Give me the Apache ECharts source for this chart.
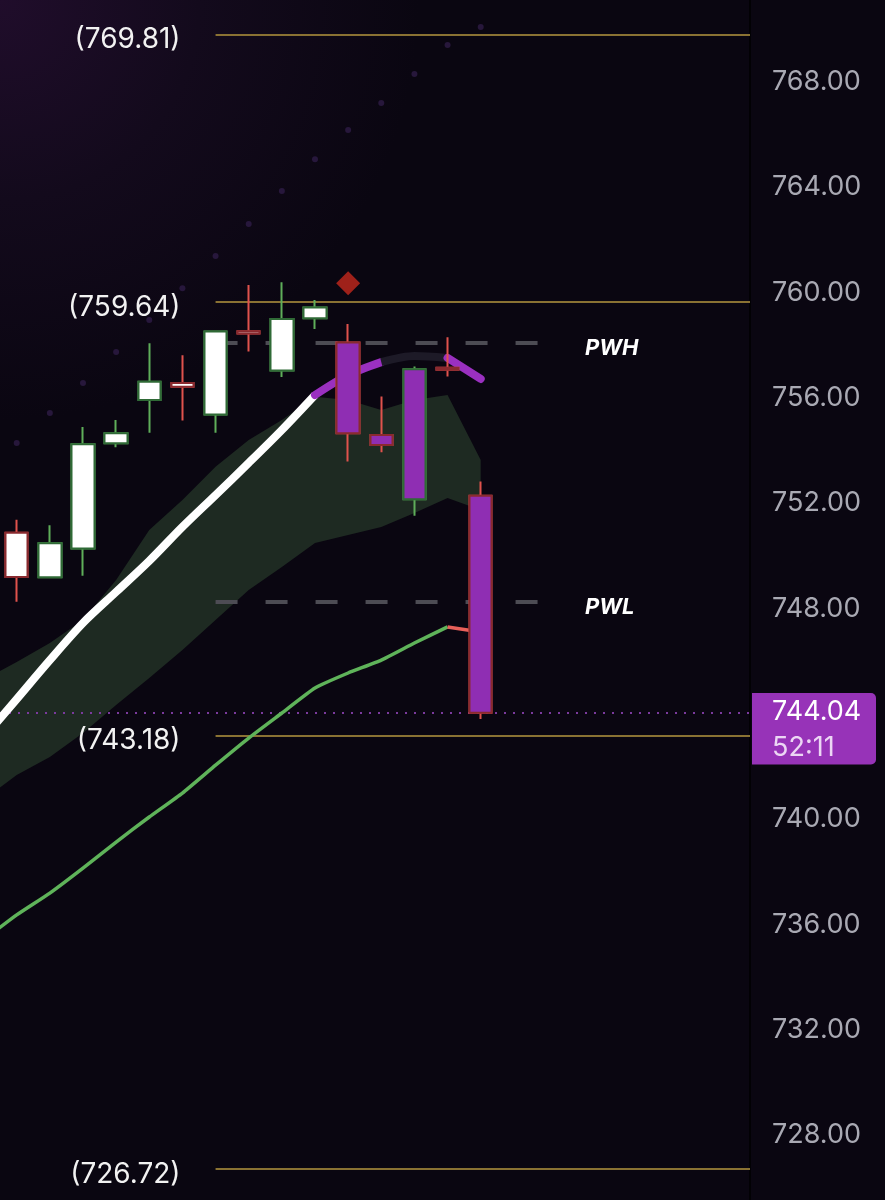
<!DOCTYPE html>
<html><head><meta charset="utf-8">
<script src="https://cdn.jsdelivr.net/npm/echarts@6/dist/echarts.min.js"></script>
<style>
html,body{margin:0;padding:0;width:885px;height:1200px;overflow:hidden;background:#0a0611;}
body{background:radial-gradient(circle at 0 0,#200d2b 0px,#130a1c 200px,#0a0611 420px);}
#c{width:885px;height:1200px;}
</style></head><body><div id="c"></div>
<script>
// ---------- data ----------
// slot index of each candle
const candleSlot  = [1, 2, 3, 4, 5, 6, 7, 8, 9, 10, 11, 12, 13, 14, 15];
const candleOpen  = [750.88, 749.19, 750.28, 754.28, 755.92, 756.57, 755.37, 758.53, 757.04, 759.03, 758.10, 754.59, 752.15, 757.15, 752.28];
const candleClose = [749.20, 750.48, 754.24, 754.66, 756.61, 756.42, 758.52, 758.45, 759.00, 759.43, 754.66, 754.21, 757.09, 757.07, 744.04];
const candleLow   = [748.26, 749.19, 749.24, 754.13, 754.68, 755.14, 754.68, 757.76, 756.79, 758.62, 753.58, 753.94, 751.52, 756.81, 743.80];
const candleHigh  = [751.37, 751.16, 754.89, 755.16, 758.08, 757.62, 758.55, 760.29, 760.39, 759.72, 758.81, 756.05, 757.19, 758.30, 752.82];
const candleSignal = [0,0,0,0,0,0,0,0,0,0,1,1,1,0,1];
// indicator lines, slots 0..15
const lineSlot   = [0, 1, 2, 3, 4, 5, 6, 7, 8, 9, 10, 11, 12, 13, 14, 15];
const maFast     = [743.08, 744.56, 746.04, 747.45, 748.63, 749.81, 751.10, 752.31, 753.53, 754.78, 756.11, 756.87, 757.36, 757.59, 757.52, 756.72];
const maSlow     = [735.41, 736.36, 737.19, 738.14, 739.13, 740.08, 740.99, 742.05, 743.08, 744.03, 744.98, 745.55, 746.04, 746.69, 747.30, 747.11];
const cloudUpper = [745.28, 745.97, 746.69, 747.56, 749.08, 750.98, 752.12, 753.38, 754.40, 755.16, 756.04, 755.92, 755.54, 755.92, 756.11, 753.64];
const cloudLower = [740.73, 741.68, 742.36, 743.27, 744.33, 745.36, 746.42, 747.56, 748.70, 749.58, 750.49, 750.79, 751.10, 751.63, 752.20, 751.74];
// projected path dots, slots 1..15
const projDots = [754.29, 755.43, 756.57, 757.74, 758.96, 760.17, 761.39, 762.61, 763.86, 765.07, 766.18, 767.20, 768.30, 769.41, 770.09];
// signal marker
const signalSlot = 11, signalValue = 760.36;
// levels
const levelValues = [769.81, 759.64, 743.18, 726.72];
const weekValues = [758.09, 748.25];
const weekNames = ['PWH', 'PWL'];
const lastPrice = 744.04;
const countdown = '52:11';
const yTicks = [728, 732, 736, 740, 744, 748, 752, 756, 760, 764, 768];

// ---------- axes / styles ----------
const X_MIN = 0.4961, X_MAX = 23.125;      // visible slot window
const Y_MIN = 725.531, Y_MAX = 771.115;    // visible price window
const LEVEL_FROM = 7, WEEK_TO = 17;
const COL = {
  bullBorder:'#2f6a36', bullWick:'#5fae5a', bearBorder:'#8a2a2f', bearWick:'#e0524d',
  white:'#ffffff', purple:'#8f2eb3', line:'#9a30c0', dark:'#1d1a27', green:'#5fb35a', red:'#e8605a',
  cloud:'#1e2a22', gold:'#8a7233', dash:'#4d4c54', dot:'#2e1b46'
};
const FONT = 'Inter, "Liberation Sans", sans-serif';

const candleWick = [], candleBody = [];
for (let i = 0; i < candleOpen.length; i++) {
  const k = candleSlot[i], o = candleOpen[i], c = candleClose[i];
  const up = c >= o;
  const fill = candleSignal[i] ? COL.purple : COL.white;
  const wick = up ? COL.bullWick : COL.bearWick;
  const border = up ? COL.bullBorder : COL.bearBorder;
  candleWick.push({ value: [k, o, c, candleLow[i], candleHigh[i]],
    itemStyle: { color: fill, color0: fill, borderColor: wick, borderColor0: wick } });
  candleBody.push({ value: [k, o, c, Math.min(o, c), Math.max(o, c)],
    itemStyle: { color: fill, color0: fill, borderColor: border, borderColor0: border } });
}
const seg = (arr, a, b) => lineSlot.map((x, i) => [x, arr[i]]).filter(p => p[0] >= a && p[0] <= b);
const dotsData = projDots.map((v, i) => [candleSlot[i], v]);

const levelLines = levelValues.map(v => [
  { coord: [LEVEL_FROM, v], lineStyle: { color: COL.gold, width: 2, type: 'solid' },
    label: { show: true, position: 'start', distance: 35, formatter: '{t|(' + v.toFixed(2) + ')}',
      rich: { t: { color: '#f2f2f2', fontSize: 28, fontFamily: FONT, padding: [11, 0, 0, 0] } } } },
  { coord: [X_MAX, v] }
]);
const weekLines = weekValues.map((v, i) => [
  { coord: [LEVEL_FROM, v], lineStyle: { color: COL.dash, width: 4, type: [22, 28] },
    label: { show: true, position: 'end', distance: 38, formatter: '{t|' + weekNames[i] + '}',
      rich: { t: { color: '#ffffff', fontSize: 22, fontWeight: 'bold', fontStyle: 'italic', fontFamily: FONT, padding: [11, 0, 0, 0] } } } },
  { coord: [WEEK_TO, v] }
]);
const priceLine = { yAxis: lastPrice, lineStyle: { color: '#7b3a9e', width: 2, type: [2, 7] },
  label: { show: true, position: 'end', distance: 2,
    formatter: '{s| }\n{a|' + lastPrice.toFixed(2) + '}\n{b|' + countdown + '}',
    rich: {
      s: { height: 32, lineHeight: 32, fontSize: 26, color: 'transparent' },
      a: { width: 104, height: 38, lineHeight: 38, padding: [0, 0, 0, 20], backgroundColor: '#9733b8',
           color: '#ffffff', fontSize: 27, fontFamily: FONT, align: 'left', borderRadius: [0, 5, 0, 0] },
      b: { width: 104, height: 33.5, lineHeight: 33.5, padding: [0, 0, 0, 20], backgroundColor: '#9733b8',
           color: '#ecd6f4', fontSize: 27, fontFamily: FONT, align: 'left', borderRadius: [0, 0, 5, 0] }
    } } };

const lineSeries = (name, data, color, width, z, cap, smooth) => ({
  name, type: 'line', data, smooth: smooth == null ? 0.3 : smooth, showSymbol: false, symbol: 'none', z, silent: true,
  lineStyle: { color, width, cap: cap || 'butt', join: 'round' }
});

// cloud band drawn as one polygon through the axes' coordinate mapping
function renderCloud(params, api) {
  const pts = [];
  for (let i = 0; i < lineSlot.length; i++) pts.push(api.coord([lineSlot[i], cloudUpper[i]]));
  for (let i = lineSlot.length - 1; i >= 0; i--) pts.push(api.coord([lineSlot[i], cloudLower[i]]));
  return { type: 'polygon', shape: { points: pts }, style: { fill: COL.cloud, stroke: null } };
}

const chart = echarts.init(document.getElementById('c'), null, { renderer: 'canvas' });
chart.setOption({
  backgroundColor: 'transparent',
  animation: false,
  grid: { left: 0, right: 135, top: 0, bottom: 0, containLabel: false },
  xAxis: { type: 'value', min: X_MIN, max: X_MAX, show: false },
  yAxis: {
    type: 'value', position: 'right', min: Y_MIN, max: Y_MAX,
    axisLine: { show: true, lineStyle: { color: '#020104', width: 2 } },
    axisTick: { show: false }, splitLine: { show: false },
    axisLabel: { margin: 22, color: '#a9a9b3', fontSize: 27, fontFamily: FONT,
      customValues: yTicks, formatter: v => Number(v).toFixed(2) }
  },
  series: [
    { name: 'cloud', type: 'custom', renderItem: renderCloud, data: [[lineSlot[0], cloudUpper[0]]],
      encode: { x: 0, y: 1 }, z: 1, silent: true, clip: true },
    { name: 'proj', type: 'scatter', data: dotsData, symbolSize: 6, z: 2, silent: true,
      itemStyle: { color: COL.dot },
      markLine: { silent: true, symbol: 'none', z: 2, animation: false,
        data: levelLines.concat(weekLines).concat([priceLine]) } },
    lineSeries('maFast1', seg(maFast, 0, 10), COL.white, 8, 3),
    lineSeries('maFast2', seg(maFast, 10, 12), COL.line, 8, 3, 'round'),
    lineSeries('maFast3', seg(maFast, 12, 14), COL.dark, 8, 3, 'butt'),
    lineSeries('maFast4', seg(maFast, 14, 15), COL.line, 8, 3, 'round'),
    lineSeries('maSlow1', seg(maSlow, 0, 14), COL.green, 3.5, 3, 'butt', 0.15),
    lineSeries('maSlow2', seg(maSlow, 14, 15), COL.red, 3.5, 3, 'butt', 0),
    { name: 'wicks', type: 'candlestick', data: candleWick, encode: { x: 0, y: [1, 2, 3, 4] },
      barWidth: 23, z: 4, silent: true, itemStyle: { borderWidth: 2 } },
    { name: 'bodies', type: 'candlestick', data: candleBody, encode: { x: 0, y: [1, 2, 3, 4] },
      barWidth: 23, z: 5, silent: true, itemStyle: { borderWidth: 2 } },
    { name: 'signal', type: 'scatter', data: [[signalSlot, signalValue]], symbol: 'diamond', symbolSize: 24,
      z: 6, silent: true, itemStyle: { color: '#c4281d' } }
  ]
});
</script>
</body></html>
